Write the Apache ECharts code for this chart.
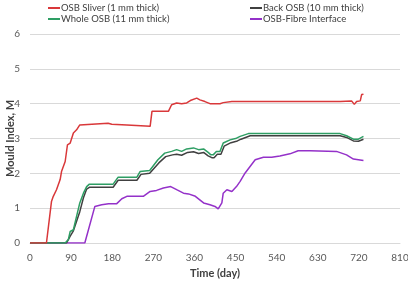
<!DOCTYPE html>
<html>
<head>
<meta charset="utf-8">
<script src="https://cdn.jsdelivr.net/npm/echarts@6/dist/echarts.min.js"></script>
<style>
html,body{margin:0;padding:0;background:#fff;}
#chart{width:408px;height:284px;}
</style>
</head>
<body>
<div id="chart"></div>
<script>
// ---- Data ----
const seriesNames = ["OSB Sliver (1 mm thick)", "Back OSB (10 mm thick)", "Whole OSB (11 mm thick)", "OSB-Fibre Interface"];

const sliverDays   = [0, 36, 47, 51, 58, 66, 69, 73, 77, 82, 88, 91, 95, 102, 109, 113, 171, 179, 212, 215, 263, 267, 303, 310, 321, 332, 343, 351, 365, 372, 383, 394, 416, 423, 442, 679, 704, 710, 715, 723, 726, 730];
const sliverValues = [0, 0, 1.19, 1.34, 1.53, 1.82, 2.05, 2.1, 2.34, 2.82, 2.87, 2.87, 3.16, 3.25, 3.39, 3.44, 3.44, 3.41, 3.39, 3.35, 3.35, 3.78, 3.78, 3.97, 4.02, 4.0, 4.02, 4.09, 4.16, 4.11, 4.06, 4.0, 4.0, 4.03, 4.06, 4.06, 4.08, 3.98, 4.06, 4.08, 4.26, 4.27];

const backDays   = [0, 80, 88, 95, 109, 117, 124, 130, 182, 193, 234, 243, 262, 282, 297, 312, 321, 332, 345, 358, 369, 380, 390, 398, 403, 410, 418, 425, 440, 454, 462, 482, 679, 693, 708, 719, 730];
const backValues = [0, 0, 0.2, 0.35, 0.9, 1.3, 1.55, 1.6, 1.6, 1.8, 1.8, 1.97, 2.0, 2.3, 2.48, 2.53, 2.55, 2.52, 2.6, 2.62, 2.57, 2.6, 2.5, 2.45, 2.45, 2.55, 2.55, 2.78, 2.88, 2.93, 2.98, 3.08, 3.08, 3.03, 2.93, 2.92, 2.98];

const wholeDays   = [0, 77, 84, 88, 95, 109, 117, 124, 130, 182, 193, 234, 241, 262, 280, 295, 310, 321, 332, 343, 358, 369, 380, 390, 396, 401, 408, 416, 423, 438, 452, 460, 478, 679, 693, 708, 719, 730];
const wholeValues = [0, 0, 0.1, 0.33, 0.38, 1.15, 1.43, 1.62, 1.69, 1.69, 1.89, 1.89, 2.05, 2.08, 2.39, 2.58, 2.63, 2.68, 2.63, 2.7, 2.73, 2.68, 2.7, 2.6, 2.53, 2.53, 2.63, 2.63, 2.87, 2.96, 3.01, 3.06, 3.14, 3.14, 3.08, 2.98, 2.98, 3.06];

const fibreDays   = [0, 120, 142, 157, 172, 190, 201, 212, 248, 263, 277, 292, 308, 321, 336, 347, 362, 380, 394, 405, 412, 420, 423, 431, 442, 452, 460, 471, 493, 511, 529, 547, 569, 587, 613, 671, 693, 708, 730];
const fibreValues = [0, 0, 1.05, 1.1, 1.13, 1.13, 1.27, 1.34, 1.34, 1.48, 1.51, 1.58, 1.62, 1.53, 1.43, 1.41, 1.34, 1.15, 1.1, 1.05, 0.98, 1.15, 1.43, 1.53, 1.48, 1.62, 1.77, 2.01, 2.39, 2.46, 2.46, 2.5, 2.56, 2.65, 2.65, 2.63, 2.53, 2.41, 2.37];

const xTicks = [0, 90, 180, 270, 360, 450, 540, 630, 720, 810];
const yTicks = [0, 1, 2, 3, 4, 5, 6];

const colors = ["#d9383a", "#404040", "#2e9e64", "#9431c9"];

function pairs(d, v) { return d.map((x, i) => [x, v[i]]); }

const chart = echarts.init(document.getElementById('chart'), null, {renderer: 'canvas'});
const FONT = 'Lato, "Open Sans", sans-serif';

function mkSeries(name, d, v, c, z) {
  return {
    name: name, type: 'line', data: pairs(d, v),
    showSymbol: false, symbol: 'none', smooth: false, z: z,
    lineStyle: {color: c, width: 1.5}, itemStyle: {color: c}
  };
}

const legendCommon = {
  orient: 'vertical', top: 3, itemGap: 1, itemWidth: 12, itemHeight: 2,
  icon: 'rect', padding: 0,
  textStyle: {fontSize: 9.5, color: '#404040', fontFamily: FONT, padding: [0, 0, 0, -4]}
};

chart.setOption({
  animation: false,
  backgroundColor: '#fff',
  color: colors,
  legend: [
    Object.assign({}, legendCommon, {left: 48, data: [seriesNames[0], seriesNames[2]]}),
    Object.assign({}, legendCommon, {left: 250, data: [seriesNames[1], seriesNames[3]]})
  ],
  grid: {left: 30, right: 8, top: 34, bottom: 41, containLabel: false, outerBoundsMode: 'none'},
  xAxis: {
    type: 'value', min: xTicks[0], max: xTicks[xTicks.length - 1], interval: 90,
    name: 'Time (day)', nameLocation: 'middle', nameGap: 25, nameMoveOverlap: false,
    nameTextStyle: {fontSize: 11, fontWeight: 'bold', color: '#404040', fontFamily: FONT},
    axisLine: {show: true, lineStyle: {color: '#d9d9d9', width: 1}},
    axisTick: {show: false},
    splitLine: {show: false},
    axisLabel: {fontSize: 10, color: '#595959', margin: 10, fontFamily: FONT}
  },
  yAxis: {
    type: 'value', min: yTicks[0], max: yTicks[yTicks.length - 1], interval: 1,
    name: 'Mould Index, M', nameLocation: 'middle', nameGap: 14, nameRotate: 90, nameMoveOverlap: false,
    nameTextStyle: {fontSize: 11, fontWeight: 'bold', color: '#404040', fontFamily: FONT},
    axisLine: {show: false}, axisTick: {show: false},
    splitLine: {show: true, lineStyle: {color: '#d9d9d9', width: 1}},
    axisLabel: {fontSize: 10, color: '#595959', margin: 10, fontFamily: FONT}
  },
  series: [
    mkSeries(seriesNames[0], sliverDays, sliverValues, colors[0], 4),
    mkSeries(seriesNames[1], backDays, backValues, colors[1], 2),
    mkSeries(seriesNames[2], wholeDays, wholeValues, colors[2], 3),
    mkSeries(seriesNames[3], fibreDays, fibreValues, colors[3], 1)
  ]
});
</script>
</body>
</html>
